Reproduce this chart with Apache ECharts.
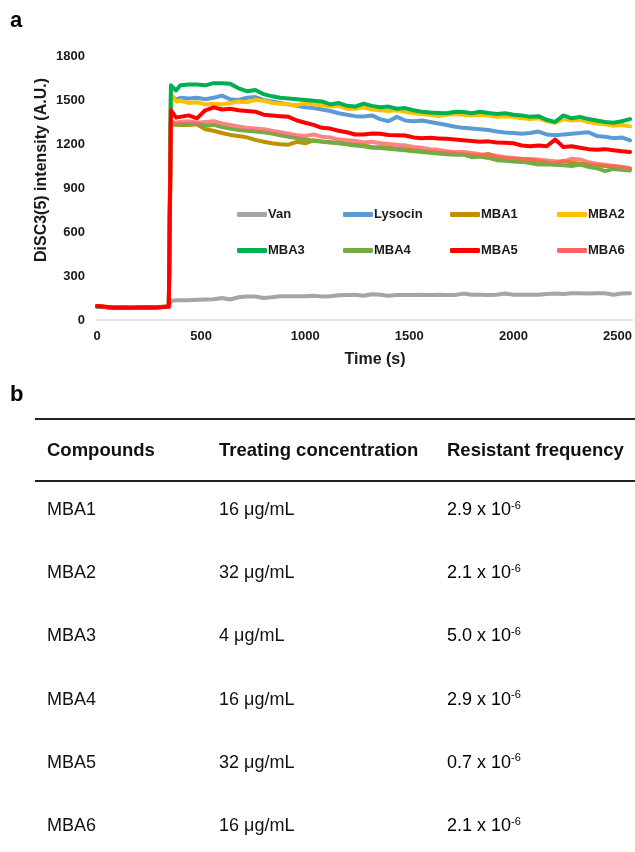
<!DOCTYPE html>
<html>
<head>
<meta charset="utf-8">
<script src="https://cdn.jsdelivr.net/npm/echarts@6/dist/echarts.min.js"></script>
<style>
  html, body { margin: 0; padding: 0; background: #fff; }
  #main { width: 635px; height: 852px; }
</style>
</head>
<body>
<div id="main"></div>
<script>
// time points (s)
const times = [0, 40, 80, 120, 160, 200, 240, 280, 320, 345,
  355, 380, 400, 440, 480, 520, 560, 600, 640, 680, 720, 760, 800, 840, 880, 920, 960,
  1000, 1040, 1080, 1120, 1160, 1200, 1240, 1280, 1320, 1360, 1400, 1440, 1480, 1520, 1560,
  1600, 1640, 1680, 1720, 1760, 1800, 1840, 1880, 1920, 1960, 2000, 2040, 2080, 2120, 2160,
  2200, 2240, 2280, 2320, 2360, 2400, 2440, 2480, 2520, 2560];

const van = [92, 88, 86, 87, 85, 86, 88, 87, 89, 92,
  130, 135, 135, 135, 138, 140, 142, 150, 140, 155, 160, 160, 150, 155, 162, 162, 162,
  162, 165, 160, 162, 168, 170, 172, 165, 176, 172, 165, 170, 170, 170, 172,
  170, 172, 170, 170, 180, 172, 172, 170, 172, 180, 172, 172, 172, 172, 178,
  180, 178, 182, 182, 180, 182, 182, 172, 180, 182];
const lysocin = [94, 89, 85, 86, 84, 85, 87, 86, 90, 93,
  1525, 1505, 1515, 1510, 1515, 1505, 1515, 1530, 1505, 1500, 1515, 1520, 1500, 1490, 1480, 1470, 1460,
  1450, 1445, 1435, 1425, 1410, 1400, 1390, 1388, 1395, 1370, 1355, 1385, 1360, 1355, 1360,
  1350, 1340, 1330, 1318, 1310, 1305, 1300, 1295, 1285, 1278, 1275, 1270, 1275, 1285, 1265,
  1260, 1265, 1270, 1275, 1280, 1255, 1250, 1240, 1245, 1225];
const mba1 = [93, 88, 84, 85, 84, 86, 86, 86, 88, 91,
  1330, 1335, 1330, 1330, 1335, 1300, 1290, 1275, 1262, 1255, 1245, 1228, 1215, 1205, 1198, 1195, 1215,
  1205, 1225, 1218, 1212, 1208, 1200, 1195, 1190, 1180, 1178, 1175, 1168, 1165, 1158, 1150,
  1148, 1142, 1140, 1135, 1130, 1125, 1120, 1132, 1110, 1105, 1100, 1098, 1092, 1085, 1075,
  1068, 1085, 1072, 1065, 1060, 1055, 1050, 1048, 1040, 1032];
const mba2 = [95, 90, 86, 86, 85, 87, 88, 88, 90, 92,
  1545, 1490, 1495, 1480, 1485, 1470, 1475, 1470, 1480, 1490, 1485, 1500, 1495, 1480, 1475, 1470, 1465,
  1480, 1470, 1465, 1455, 1460, 1440, 1440, 1450, 1435, 1430, 1425, 1430, 1420, 1410, 1405,
  1400, 1390, 1400, 1405, 1400, 1395, 1400, 1395, 1385, 1390, 1385, 1375, 1370, 1375, 1355,
  1345, 1370, 1360, 1365, 1350, 1340, 1335, 1325, 1330, 1320];
const mba3 = [92, 87, 83, 84, 82, 84, 85, 85, 88, 90,
  1600, 1565, 1600, 1605, 1605, 1600, 1615, 1615, 1610, 1580, 1560, 1568, 1540, 1525, 1515, 1510, 1505,
  1500, 1495, 1490, 1470, 1480, 1460, 1455, 1475, 1460, 1450, 1455, 1440, 1445, 1430, 1420,
  1415, 1412, 1410, 1420, 1418, 1410, 1420, 1412, 1405, 1410, 1400, 1395, 1385, 1390, 1365,
  1350, 1395, 1375, 1385, 1370, 1360, 1350, 1345, 1355, 1370];
const mba4 = [93, 88, 85, 86, 85, 85, 86, 87, 89, 91,
  1340, 1330, 1338, 1335, 1340, 1325, 1330, 1315, 1305, 1295, 1290, 1285, 1280, 1272, 1260, 1250, 1240,
  1230, 1222, 1215, 1210, 1205, 1198, 1190, 1185, 1175, 1172, 1168, 1162, 1158, 1150, 1145,
  1140, 1135, 1130, 1126, 1128, 1110, 1115, 1105, 1090, 1085, 1080, 1078, 1070, 1060, 1062,
  1058, 1055, 1050, 1060, 1045, 1035, 1015, 1030, 1025, 1020];
const mba5 = [95, 90, 84, 86, 83, 85, 87, 86, 89, 92,
  1430, 1380, 1385, 1395, 1375, 1430, 1450, 1435, 1440, 1430, 1425, 1420, 1400, 1395, 1390, 1385, 1360,
  1345, 1330, 1310, 1305, 1290, 1280, 1265, 1265, 1272, 1270, 1262, 1260, 1258, 1245, 1240,
  1242, 1238, 1235, 1230, 1225, 1220, 1215, 1218, 1210, 1208, 1205, 1190, 1185, 1190, 1185,
  1230, 1180, 1185, 1175, 1165, 1160, 1165, 1158, 1150, 1145];
const mba6 = [94, 89, 85, 86, 84, 86, 88, 87, 90, 92,
  1350, 1345, 1350, 1355, 1345, 1350, 1355, 1340, 1330, 1320, 1310, 1305, 1300, 1290, 1280, 1270, 1260,
  1255, 1265, 1250, 1245, 1230, 1225, 1220, 1210, 1215, 1205, 1200, 1195, 1190, 1180, 1175,
  1165, 1160, 1150, 1145, 1145, 1138, 1130, 1125, 1120, 1110, 1105, 1100, 1098, 1095, 1088,
  1082, 1080, 1100, 1095, 1075, 1065, 1058, 1050, 1045, 1035];

const yTicks = [0, 300, 600, 900, 1200, 1500, 1800];

// legend layout: two rows of four
const legendRows = [['Van', 'Lysocin', 'MBA1', 'MBA2'], ['MBA3', 'MBA4', 'MBA5', 'MBA6']];

// table (panel b)
const tableHeader = ['Compounds', 'Treating concentration', 'Resistant frequency'];
const compounds = ['MBA1', 'MBA2', 'MBA3', 'MBA4', 'MBA5', 'MBA6'];
const concentrations = ['16 μg/mL', '32 μg/mL', '4 μg/mL', '16 μg/mL', '32 μg/mL', '16 μg/mL'];
const freqMantissa = ['2.9', '2.1', '5.0', '2.9', '0.7', '2.1'];
const freqExponent = '-6';

const FONT = "'Liberation Sans', Arial, sans-serif";

const seriesDefs = [
  { name: 'Van', data: van, color: '#a5a5a5' },
  { name: 'Lysocin', data: lysocin, color: '#5b9bd5' },
  { name: 'MBA1', data: mba1, color: '#bf9000' },
  { name: 'MBA2', data: mba2, color: '#ffc000' },
  { name: 'MBA3', data: mba3, color: '#00b050' },
  { name: 'MBA4', data: mba4, color: '#70ad47' },
  { name: 'MBA6', data: mba6, color: '#ff6464', opacity: 0.8 },
  { name: 'MBA5', data: mba5, color: '#ff0000' }
];

const chart = echarts.init(document.getElementById('main'), null, { renderer: 'canvas' });

const colLeft = [232, 338, 445, 552];
const rowTop = [203, 239];
const legends = [];
legendRows.forEach((row, r) => {
  row.forEach((name, c) => {
    legends.push({
      left: colLeft[c], top: rowTop[r],
      data: [name],
      icon: 'roundRect', itemWidth: 30, itemHeight: 5,
      itemStyle: { borderWidth: 0 },
      selectedMode: false,
      textStyle: { fontFamily: FONT, fontSize: 13, fontWeight: 'bold', color: '#1a1a1a', padding: [0, 0, 0, -4] }
    });
  });
});

const graphics = [
  { type: 'text', left: 10, top: 10, style: { text: 'a', font: 'bold 22px ' + FONT, fill: '#000' } },
  { type: 'text', left: 10, top: 384, style: { text: 'b', font: 'bold 22px ' + FONT, fill: '#000' } },
  { type: 'text', x: 42, y: 170, rotation: Math.PI / 2,
    style: { text: 'DiSC3(5) intensity (A.U.)', font: 'bold 16px ' + FONT, fill: '#1a1a1a', align: 'center', verticalAlign: 'middle' } },
  { type: 'text', x: 375, y: 360,
    style: { text: 'Time (s)', font: 'bold 16px ' + FONT, fill: '#1a1a1a', align: 'center', verticalAlign: 'middle' } },
  { type: 'line', shape: { x1: 35, y1: 419, x2: 635, y2: 419 }, style: { stroke: '#222', lineWidth: 2 } },
  { type: 'line', shape: { x1: 35, y1: 481, x2: 635, y2: 481 }, style: { stroke: '#222', lineWidth: 2 } }
];

const colX = [47, 219, 447];
tableHeader.forEach((h, i) => {
  graphics.push({ type: 'text', x: colX[i], y: 451,
    style: { text: h, font: 'bold 18.5px ' + FONT, fill: '#111', verticalAlign: 'middle' } });
});
compounds.forEach((c, i) => {
  const y = 510 + i * 63.2;
  graphics.push({ type: 'text', x: colX[0], y: y,
    style: { text: c, font: '18px ' + FONT, fill: '#111', verticalAlign: 'middle' } });
  graphics.push({ type: 'text', x: colX[1], y: y,
    style: { text: concentrations[i], font: '18px ' + FONT, fill: '#111', verticalAlign: 'middle' } });
  graphics.push({ type: 'text', x: colX[2], y: y,
    style: {
      text: '{n|' + freqMantissa[i] + ' x 10}{s|' + freqExponent + '}',
      verticalAlign: 'middle',
      rich: {
        n: { fontFamily: FONT, fontSize: 18, color: '#111', lineHeight: 20 },
        s: { fontFamily: FONT, fontSize: 11, color: '#111', verticalAlign: 'top', lineHeight: 11 }
      }
    } });
});

const option = {
  animation: false,
  backgroundColor: '#fff',
  grid: { left: 97, right: 0, top: 56, bottom: 532, containLabel: false },
  xAxis: {
    type: 'value', min: 0, max: 2572, interval: 500,
    axisLine: { show: true, lineStyle: { color: '#d9d9d9', width: 1.5 } },
    axisTick: { show: false },
    splitLine: { show: false },
    axisLabel: { showMaxLabel: false, margin: 10, formatter: v => String(v),
      fontFamily: FONT, fontSize: 13, fontWeight: 'bold', color: '#1a1a1a' }
  },
  yAxis: {
    type: 'value', min: yTicks[0], max: yTicks[yTicks.length - 1], interval: 300,
    axisLine: { show: false }, axisTick: { show: false }, splitLine: { show: false },
    axisLabel: { margin: 12, formatter: v => String(v),
      fontFamily: FONT, fontSize: 13, fontWeight: 'bold', color: '#1a1a1a' }
  },
  legend: legends,
  graphic: graphics,
  series: seriesDefs.map(s => ({
    name: s.name,
    type: 'line',
    data: times.map((t, i) => [t, s.data[i]]),
    color: s.color,
    symbol: 'none',
    silent: true,
    lineStyle: { width: 4, color: s.color, opacity: s.opacity || 1, cap: 'round', join: 'round' }
  }))
};

chart.setOption(option);
</script>
</body>
</html>
